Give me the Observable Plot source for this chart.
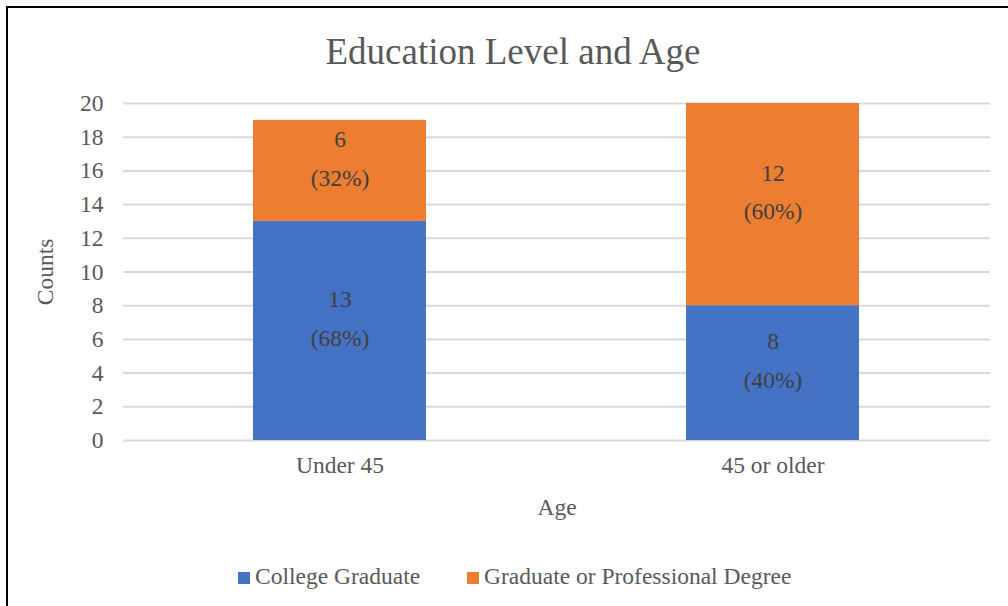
<!DOCTYPE html>
<html>
<head>
<meta charset="utf-8">
<script src="https://cdn.jsdelivr.net/npm/d3@7"></script>
<script src="https://cdn.jsdelivr.net/npm/@observablehq/plot@0.6"></script>
<style>
  html, body { margin: 0; padding: 0; background: #fff; }
  #page { position: relative; width: 1008px; height: 606px; overflow: hidden; background: #fff;
          font-family: "Liberation Serif", "Tinos", "DejaVu Serif", serif; }
  #frame { position: absolute; left: 6px; top: 6px; width: 1010px; height: 610px;
           border-left: 2.5px solid #000; border-top: 2.5px solid #000; box-sizing: border-box; }
  #title { position: absolute; top: 33px; left: 513px; transform: translateX(-50%);
           font-size: 37px; line-height: 37px; color: #595959; white-space: nowrap; }
  #chart { position: absolute; top: 88px; left: 0; }
  #legend { position: absolute; top: 562px; left: 0; width: 1008px; height: 28px; }
  .item { position: absolute; top: 0; font-size: 23.5px; line-height: 28px; color: #595959; white-space: nowrap; }
  .sw { display: inline-block; width: 12px; height: 12px; margin-right: 5px; vertical-align: 0px; }
</style>
</head>
<body>
<div id="page">
  <div id="frame"></div>
  <div id="title">Education Level and Age</div>
  <div id="chart"></div>
  <div id="legend"></div>
</div>
<script>
// ---- data ----
const ages = ["Under 45", "45 or older"];
const seriesNames = ["College Graduate", "Graduate or Professional Degree"];
const collegeCounts = [13, 8];
const gradCounts = [6, 12];
const collegePct = ["68%", "40%"];
const gradPct = ["32%", "60%"];
const yTicks = [0, 2, 4, 6, 8, 10, 12, 14, 16, 18, 20];
const colors = ["#4472C4", "#ED7D31"];

// table built from the arrays
const rows = [];
ages.forEach((a, i) => {
  rows.push({age: a, series: seriesNames[0], count: collegeCounts[i], pct: collegePct[i]});
});
ages.forEach((a, i) => {
  rows.push({age: a, series: seriesNames[1], count: gradCounts[i], pct: gradPct[i]});
});

const FONT = "'Liberation Serif', 'Tinos', 'DejaVu Serif', serif";

const chart = Plot.plot({
  width: 1008,
  height: 445,
  marginTop: 15,
  marginBottom: 93,
  marginLeft: 123,
  marginRight: 18,
  style: {fontFamily: FONT, fontSize: "23.5px", color: "#595959", background: "transparent"},
  x: {domain: ages, paddingInner: 0.6, paddingOuter: 0.3, label: "Age", labelAnchor: "center", labelOffset: 74, tickSize: 0, tickPadding: 16, labelArrow: "none"},
  y: {domain: [0, 20], ticks: yTicks, label: "Counts", labelAnchor: "center", labelOffset: 87, tickSize: 0, tickPadding: 20, labelArrow: "none"},
  color: {domain: seriesNames, range: colors},
  marks: [
    Plot.gridY(yTicks, {stroke: "#d9d9d9", strokeOpacity: 1, strokeWidth: 2}),
    Plot.barY(rows, {x: "age", y: "count", fill: "series", order: null}),
    Plot.text(rows, Plot.stackY({x: "age", y: "count", order: null,
      text: d => d.count + "\n(" + d.pct + ")",
      fill: "#404040", fontSize: 23.5, lineHeight: 1.65, dy: -17}))
  ]
});
document.getElementById("chart").appendChild(chart);

// legend
const legend = document.getElementById("legend");
const positions = [238, 467];
seriesNames.forEach((name, i) => {
  const it = document.createElement("div");
  it.className = "item";
  it.style.left = positions[i] + "px";
  const sw = document.createElement("span");
  sw.className = "sw";
  sw.style.background = colors[i];
  it.appendChild(sw);
  it.appendChild(document.createTextNode(name));
  legend.appendChild(it);
});
</script>
</body>
</html>
